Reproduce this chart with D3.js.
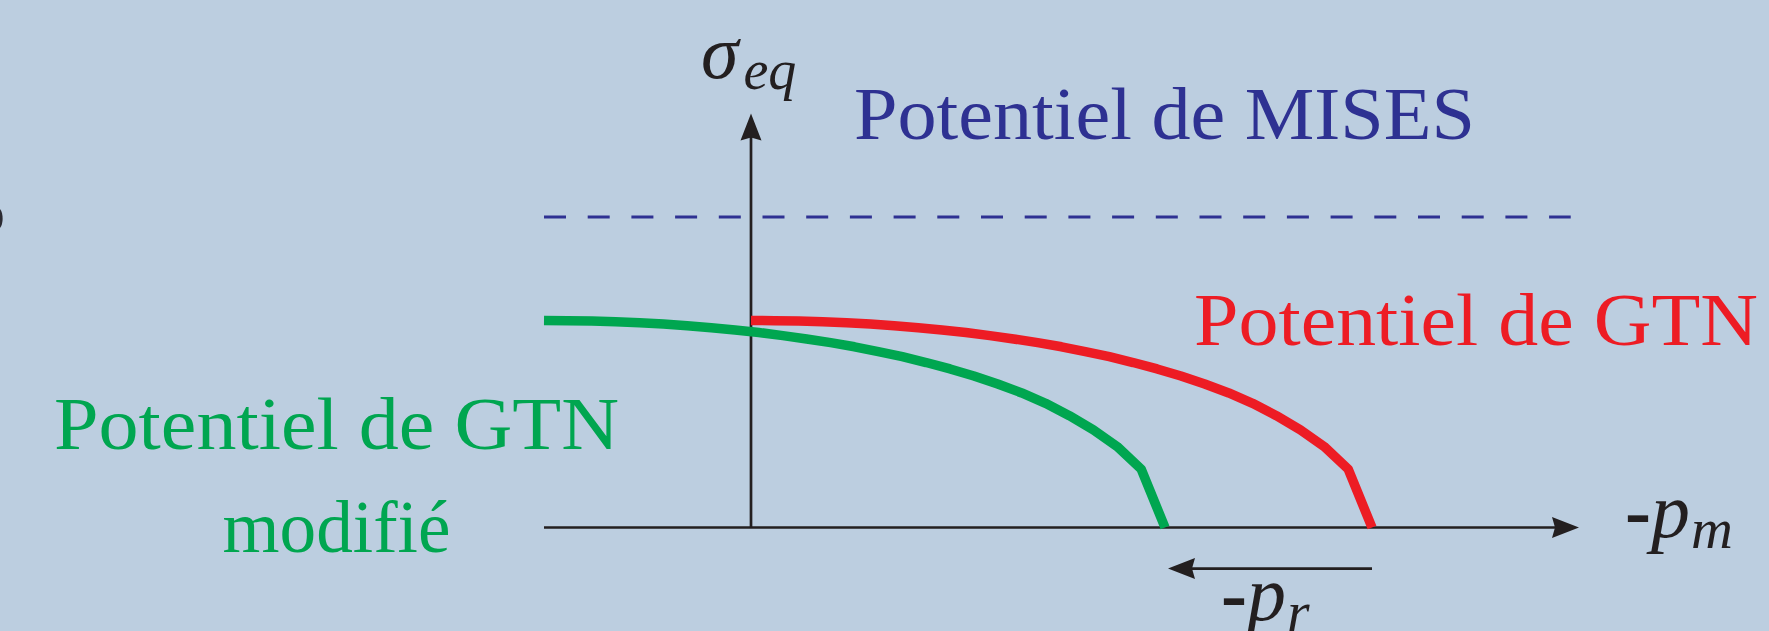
<!DOCTYPE html>
<html>
<head>
<meta charset="utf-8">
<script src="https://cdn.jsdelivr.net/npm/d3@7"></script>
<style>
html,body{margin:0;padding:0;background:#bccee0;}
svg{display:block;}
text{font-family:"Liberation Serif","Times New Roman",serif;}
</style>
</head>
<body>
<svg id="chart" width="1769" height="631"></svg>
<script>
// ---- data (normalised units: p_r = 1, sigma_0 = 1) ----
const pmGTN  = [0, 0.115, 0.231, 0.346, 0.462, 0.577, 0.692, 0.808, 0.923, 1.038, 1.154, 1.269, 1.385, 1.5,
                1.615, 1.731, 1.846, 1.962, 2.077, 2.192, 2.308, 2.423, 2.538, 2.654, 2.769, 2.885, 3.0];
const sigGTN = [1.0, 0.999, 0.997, 0.994, 0.989, 0.983, 0.975, 0.965, 0.954, 0.942, 0.927, 0.911, 0.893, 0.873,
                0.850, 0.825, 0.797, 0.766, 0.732, 0.693, 0.650, 0.600, 0.540, 0.472, 0.391, 0.282, 0.0];
const pmMod  = [-1, -0.885, -0.769, -0.654, -0.538, -0.423, -0.308, -0.192, -0.077, 0.038, 0.154, 0.269, 0.385, 0.5,
                0.615, 0.731, 0.846, 0.962, 1.077, 1.192, 1.308, 1.423, 1.538, 1.654, 1.769, 1.885, 2.0];
const sigMod = [1.0, 0.999, 0.997, 0.994, 0.989, 0.983, 0.975, 0.965, 0.954, 0.942, 0.927, 0.911, 0.893, 0.873,
                0.850, 0.825, 0.797, 0.766, 0.732, 0.693, 0.650, 0.600, 0.540, 0.472, 0.391, 0.282, 0.0];
const sigMises = 1.5;
const misesRange = [-1, 3.96];
const xAxisExtent = [-1, 4];
const yAxisExtent = [0, 2];
const prArrow = [3.0, 2.0];
const labels = {
  mises: "Potentiel de MISES",
  gtn: "Potentiel de GTN",
  mod1: "Potentiel de GTN",
  mod2: "modifié"
};

const svg = d3.select("#chart");
const W = 1769, H = 631;
const x = d3.scaleLinear().domain([-1, 4]).range([544, 1579]);
const y = d3.scaleLinear().domain([0, 2]).range([527.5, 113.5]);

const C = {bg:"#bccee0", axis:"#231f20", green:"#00a650", red:"#ed1c24", blue:"#2e3192"};

svg.append("rect").attr("width", W).attr("height", H).attr("fill", C.bg);

// small clipped glyph at left edge
svg.append("path").attr("d","M0,209 C3.5,213 3.5,224 0,228 Z").attr("fill","#2b2b33");

// Mises dashed line
svg.append("line")
  .attr("x1", x(misesRange[0])).attr("x2", x(misesRange[1]))
  .attr("y1", y(sigMises)).attr("y2", y(sigMises))
  .attr("stroke", C.blue).attr("stroke-width", 3)
  .attr("stroke-dasharray", "22 21.7");

// axes
const ax = svg.append("g");
ax.append("line").attr("x1", x(xAxisExtent[0])).attr("x2", x(xAxisExtent[1]) - 20)
  .attr("y1", y(0)).attr("y2", y(0)).attr("stroke", C.axis).attr("stroke-width", 2.7);
ax.append("line").attr("x1", x(0)).attr("x2", x(0))
  .attr("y1", y(0)).attr("y2", y(yAxisExtent[1]) + 20).attr("stroke", C.axis).attr("stroke-width", 2.7);

function arrowHead(tx, ty, dir){
  const L = 27, h = 10.5, n = 3;
  let pts;
  if(dir==="right") pts = [[tx,ty],[tx-L,ty-h],[tx-L+n,ty],[tx-L,ty+h]];
  if(dir==="left")  pts = [[tx,ty],[tx+L,ty-h],[tx+L-n,ty],[tx+L,ty+h]];
  if(dir==="up")    pts = [[tx,ty],[tx-h,ty+L],[tx,ty+L-n],[tx+h,ty+L]];
  svg.append("path").attr("d","M"+pts.map(p=>p.join(",")).join("L")+"Z").attr("fill",C.axis);
}
arrowHead(x(xAxisExtent[1]), y(0), "right");
arrowHead(x(0), y(yAxisExtent[1]), "up");

// curves
const line = d3.line().x(d=>x(d[0])).y(d=>y(d[1])).curve(d3.curveLinear);
svg.append("path").datum(d3.zip(pmMod, sigMod)).attr("d", line)
  .attr("fill","none").attr("stroke",C.green).attr("stroke-width",9.5).attr("stroke-linejoin","round");
svg.append("path").datum(d3.zip(pmGTN, sigGTN)).attr("d", line)
  .attr("fill","none").attr("stroke",C.red).attr("stroke-width",9.5).attr("stroke-linejoin","round");

// p_r arrow
const yPr = 568.6;
svg.append("line").attr("x1", x(prArrow[0])).attr("x2", x(prArrow[1]) + 20)
  .attr("y1", yPr).attr("y2", yPr).attr("stroke", C.axis).attr("stroke-width", 2.7);
arrowHead(x(prArrow[1]) + 3, yPr, "left");

// text labels
svg.append("text").attr("x", 854).attr("y", 139).attr("fill", C.blue)
  .attr("font-size", 74).attr("textLength", 621).attr("lengthAdjust","spacingAndGlyphs").text(labels.mises);
svg.append("text").attr("x", 1194).attr("y", 345).attr("fill", C.red)
  .attr("font-size", 74).attr("textLength", 564).attr("lengthAdjust","spacingAndGlyphs").text(labels.gtn);
svg.append("text").attr("x", 54).attr("y", 449).attr("fill", C.green)
  .attr("font-size", 74).attr("textLength", 565).attr("lengthAdjust","spacingAndGlyphs").text(labels.mod1);
svg.append("text").attr("x", 222.5).attr("y", 552).attr("fill", C.green)
  .attr("font-size", 74).attr("textLength", 228).attr("lengthAdjust","spacingAndGlyphs").text(labels.mod2);

// math labels
function mathLabel(xp, yp, dash, main, sub, mainSize, subSize, subDx, subDy){
  const t = svg.append("text").attr("x", xp).attr("y", yp).attr("fill", C.axis).attr("font-size", mainSize);
  if(dash) t.append("tspan").attr("font-style","normal").attr("font-weight","bold").text(dash);
  t.append("tspan").attr("font-style","italic").text(main);
  t.append("tspan").attr("font-style","italic").attr("font-size", subSize).attr("dx", subDx).attr("dy", subDy).text(sub);
}
mathLabel(701, 78, null, "σ", "eq", 76, 56, 5, 11);
mathLabel(1625, 537, "-", "p", "m", 78, 58, 1, 11);
mathLabel(1221, 619.5, "-", "p", "r", 78, 58, 1, 11);
</script>
</body>
</html>
